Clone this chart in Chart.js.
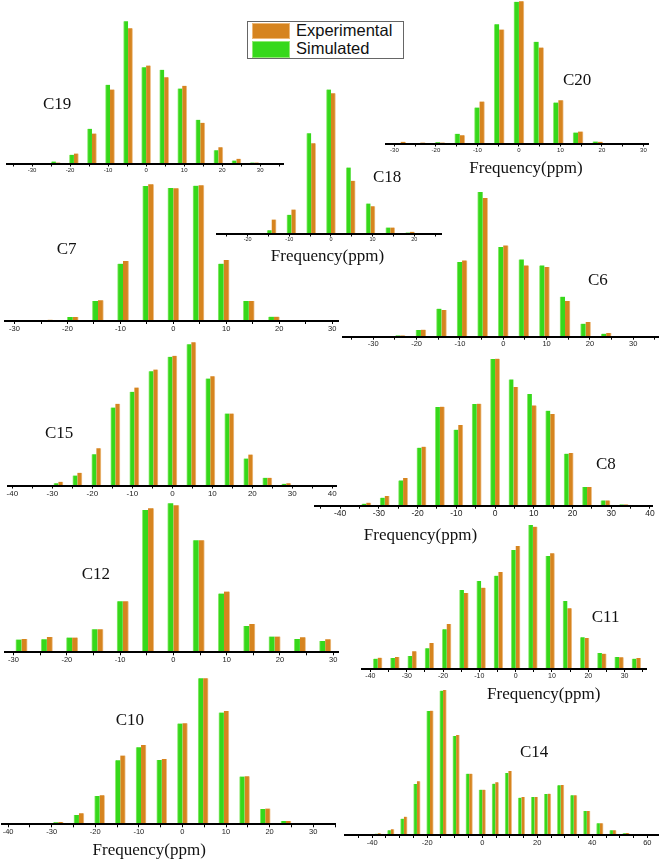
<!DOCTYPE html>
<html>
<head>
<meta charset="utf-8">
<script src="https://cdn.jsdelivr.net/npm/chart.js@4.4.1/dist/chart.umd.min.js"></script>
<style>
  html, body { margin: 0; padding: 0; background: #fff; }
  #fig { position: relative; width: 661px; height: 860px; overflow: hidden; }
  #fig canvas { position: absolute; }
  .lbl { position: absolute; font-family: "Liberation Serif", serif; font-size: 17px; line-height: 17px; color: #111; white-space: nowrap; }
  .freq { transform: translateX(-50%); }
  .sw { position: absolute; box-sizing: border-box; }
  .leg { position: absolute; font-family: "Liberation Sans", Arial, sans-serif; font-size: 16.5px; line-height: 17px; color: #111; white-space: nowrap; }
</style>
</head>
<body>
<div id="fig"></div>
<script>
// frequency offsets (ppm) of the bars, one list per panel
const c19Freq = [-23.75, -19, -14.25, -9.5, -4.75, 0, 4.75, 9.5, 14.25, 19, 23.75, 28.5];
const c19Sim  = [2, 8.7, 34.7, 78.7, 142.3, 96.3, 93.7, 75, 43.7, 13.3, 3, 1];
const c19Exp  = [1, 10, 30, 74, 135.3, 98, 86.3, 77.7, 40.7, 16.3, 4.7, 1];

const c20Freq = [-28.5, -23.75, -19, -14.25, -9.5, -4.75, 0, 4.75, 9.5, 14.25, 19];
const c20Sim  = [0, 0, 1.3, 9.7, 36, 119.3, 141.7, 101.7, 41, 11, 2];
const c20Exp  = [1.7, 1, 1, 8.3, 42, 114, 142.3, 96, 43.3, 12, 1.7];

const c18Freq = [-14.25, -9.5, -4.75, 0, 4.75, 9.5, 14.25, 19];
const c18Sim  = [3.3, 18.7, 100.3, 144, 66, 30, 6, 1];
const c18Exp  = [14, 24, 90.3, 140.3, 52.7, 27.3, 6, 1.7];

const c7Freq = [-23.75, -19, -14.25, -9.5, -4.75, 0, 4.75, 9.5, 14.25, 19, 23.75];
const c7Sim  = [0.5, 4, 20, 57.3, 135, 133, 135.3, 57.3, 20, 4.3, 0.7];
const c7Exp  = [1.3, 4, 20.7, 60, 136.7, 132.7, 135.7, 61, 20, 4.3, 0.7];

const c6Freq = [-23.75, -19, -14.25, -9.5, -4.75, 0, 4.75, 9.5, 14.25, 19, 23.75, 28.5];
const c6Sim  = [1.3, 6.7, 28, 74.7, 144.7, 89.7, 77.3, 71.3, 40, 13, 3, 0.7];
const c6Exp  = [1.3, 7, 26.7, 76.3, 138.7, 91.3, 71.3, 69.7, 35.7, 14.7, 3.7, 0.7];

const c15Freq = [-28.5, -23.75, -19, -14.25, -9.5, -4.75, 0, 4.75, 9.5, 14.25, 19, 23.75, 28.5];
const c15Sim  = [2.3, 10, 31.3, 78, 93.7, 114.3, 128.7, 141.3, 107, 72, 27, 7.7, 1.7];
const c15Exp  = [3.7, 12.7, 37.3, 81.7, 98, 116, 129.7, 143.3, 109.3, 72, 31, 7.7, 2.3];

const c8Freq = [-33.25, -28.5, -23.75, -19, -14.25, -9.5, -4.75, 0, 4.75, 9.5, 14.25, 19, 23.75, 28.5, 33.25];
const c8Sim  = [2, 8, 25.3, 58, 98.7, 76, 101.7, 146.7, 126.3, 111.7, 95, 52, 18.7, 5.3, 1.3];
const c8Exp  = [3, 9.7, 27.7, 59, 99, 80.7, 102, 147, 118.7, 100.3, 91.7, 52.7, 18.7, 5.3, 1.3];

const c12Freq = [-28.5, -23.75, -19, -14.25, -9.5, -4.75, 0, 4.75, 9.5, 14.25, 19, 23.75, 28.5];
const c12Sim  = [12.7, 13, 14.7, 23, 51, 142.3, 149, 112, 58.7, 26.3, 15.7, 13.3, 11.3];
const c12Exp  = [13.3, 15.3, 14.7, 23, 51, 144, 147, 112, 60.7, 28.3, 15.7, 15, 13];

const c11Freq = [-38, -33.25, -28.5, -23.75, -19, -14.25, -9.5, -4.75, 0, 4.75, 9.5, 14.25, 19, 23.75, 28.5, 33.25];
const c11Sim  = [10.3, 11, 13, 20.7, 39.7, 79, 88, 93.3, 119, 144, 113, 68, 31.7, 16, 12, 10.3];
const c11Exp  = [11.3, 12, 17.7, 26, 45, 76, 81.3, 97, 123, 142.3, 115.7, 60.7, 31, 15.3, 11.7, 11];

const c10Freq = [-33.25, -28.5, -23.75, -19, -14.25, -9.5, -4.75, 0, 4.75, 9.5, 14.25, 19, 23.75, 28.5];
const c10Sim  = [0.5, 2, 9.3, 28.3, 64, 77, 64.3, 100.7, 146, 111.7, 47.7, 15.3, 3.3, 0.5];
const c10Exp  = [1, 2.3, 11, 29, 68.7, 79.3, 65.3, 101, 146, 113.3, 48, 15.7, 3.3, 0.7];

const c14Freq = [-38, -33.25, -28.5, -23.75, -19, -14.25, -9.5, -4.75, 0, 4.75, 9.5, 14.25, 19, 23.75, 28.5, 33.25, 38, 42.75, 47.5, 52.25];
const c14Sim  = [1.3, 4.7, 16.3, 51, 124, 144.3, 99, 61.3, 45.3, 51.3, 62, 37.3, 38, 41, 49.7, 39.7, 24, 11.7, 4.7, 1.7];
const c14Exp  = [1.7, 5.7, 18.3, 53.7, 124.3, 145, 100, 61.3, 45.3, 52.7, 64, 38, 38, 41.3, 50, 39.7, 24, 11.7, 4.7, 2];

const GREEN = '#36D81B';
const ORANGE = '#D6841F';
const Y_TOP = 150;   // plot height in px, same as y max
const AXIS_H = 16;

// where each panel sits on the page (L/R = axis ends, B = baseline)
const panels = [
    { name: 'C19', freq: c19Freq, sim: c19Sim, exp: c19Exp, min: -36.6, max: 36.0, L: 7,     R: 283,   B: 163.5, bar: 4.5, font: 6,   step: 10, tx: 43,    ty: 109.5 },
    { name: 'C20', freq: c20Freq, sim: c20Sim, exp: c20Exp, min: -32.1, max: 31.1, L: 385.7, R: 648,   B: 143.5, bar: 5,   font: 6,   step: 10, tx: 563,   ty: 85, fx: 526, fy: 173.5 },
    { name: 'C18', freq: c18Freq, sim: c18Sim, exp: c18Exp, min: -27.3, max: 26.6, L: 217.3, R: 441.7, B: 233.5, bar: 4.5, font: 5.5, step: 10, tx: 373,   ty: 182.3, fx: 327.5, fy: 260.7 },
    { name: 'C7',  freq: c7Freq,  sim: c7Sim,  exp: c7Exp,  min: -31.8, max: 31.1, L: 5,     R: 338,   B: 321,   bar: 5.5, font: 7.5, step: 10, tx: 56.7,  ty: 254 },
    { name: 'C6',  freq: c6Freq,  sim: c6Sim,  exp: c6Exp,  min: -36.9, max: 35.7, L: 343.3, R: 658,   B: 336.7, bar: 5,   font: 7.5, step: 10, tx: 588,   ty: 285 },
    { name: 'C15', freq: c15Freq, sim: c15Sim, exp: c15Exp, min: -41.1, max: 41.1, L: 8,     R: 336.7, B: 485.5, bar: 4.6, font: 8,   step: 10, tx: 45,    ty: 438.3 },
    { name: 'C8',  freq: c8Freq,  sim: c8Sim,  exp: c8Exp,  min: -46.5, max: 40.7, L: 315,   R: 652.7, B: 505.7, bar: 4.6, font: 8.5, step: 10, tx: 596,   ty: 469, fx: 420.5, fy: 540.5 },
    { name: 'C12', freq: c12Freq, sim: c12Sim, exp: c12Exp, min: -31.6, max: 30.9, L: 5,     R: 338,   B: 652.3, bar: 5.7, font: 7.5, step: 10, tx: 81.7,  ty: 579.3 },
    { name: 'C11', freq: c11Freq, sim: c11Sim, exp: c11Exp, min: -42.4, max: 35.9, L: 361.7, R: 646,   B: 669,   bar: 4.4, font: 7,   step: 10, tx: 591.7, ty: 622.3, fx: 543.7, fy: 699.3 },
    { name: 'C10', freq: c10Freq, sim: c10Sim, exp: c10Exp, min: -41.4, max: 35,   L: 2,     R: 335,   B: 824.3, bar: 5,   font: 7.5, step: 10, tx: 115.7, ty: 725, fx: 149.2, fy: 855 },
    { name: 'C14', freq: c14Freq, sim: c14Sim, exp: c14Exp, min: -49.9, max: 64,   L: 345,   R: 658.3, B: 835,   bar: 3.3, font: 7.5, step: 20, tx: 520,   ty: 757.3 }
];

const fig = document.getElementById('fig');

function addText(cls, text, x, baseline) {
    const d = document.createElement('div');
    d.className = cls;
    d.textContent = text;
    d.style.left = x + 'px';
    d.style.top = (baseline - 14.2) + 'px';
    fig.appendChild(d);
}

function drawPanel(p) {
    const canvas = document.createElement('canvas');
    const left = Math.floor(p.L) - 14;
    const top = Math.floor(p.B - Y_TOP - 2);
    const width = Math.ceil(p.R) + 14 - left;
    const height = Math.ceil(p.B + AXIS_H + 1) - top;
    canvas.width = width;
    canvas.height = height;
    canvas.style.left = left + 'px';
    canvas.style.top = top + 'px';
    fig.appendChild(canvas);

    new Chart(canvas, {
        type: 'bar',
        data: {
            datasets: [{
                label: 'Simulated',
                data: p.freq.map((f, i) => ({ x: f, y: p.sim[i] })),
                backgroundColor: GREEN,
                borderColor: '#8FEA72',
                borderWidth: { left: 1, right: 0, top: 0, bottom: 0 },
                barThickness: p.bar
            }, {
                label: 'Experimental',
                data: p.freq.map((f, i) => ({ x: f, y: p.exp[i] })),
                backgroundColor: ORANGE,
                borderColor: '#EDC08A',
                borderWidth: { left: 0, right: 1, top: 0, bottom: 0 },
                barThickness: p.bar
            }]
        },
        options: {
            responsive: false,
            animation: false,
            events: [],
            layout: {
                padding: {
                    left: p.L - left,
                    right: left + width - p.R,
                    top: p.B - Y_TOP - top,
                    bottom: top + height - p.B - AXIS_H
                }
            },
            scales: {
                x: {
                    type: 'linear',
                    min: p.min,
                    max: p.max,
                    offset: false,
                    grid: { display: true, offset: false, drawOnChartArea: false, drawTicks: true, tickLength: 3, color: '#000', lineWidth: 1 },
                    border: { display: true, color: '#000', width: 2, z: 1 },
                    ticks: {
                        stepSize: 5,
                        includeBounds: false,
                        autoSkip: false,
                        maxRotation: 0,
                        minRotation: 0,
                        padding: 0,
                        color: '#222',
                        font: { family: 'Liberation Sans', size: p.font },
                        callback: v => (v % p.step === 0 ? String(v) : '')
                    },
                    afterFit: s => { s.height = AXIS_H; }
                },
                y: { display: false, min: 0, max: Y_TOP }
            },
            plugins: {
                legend: { display: false },
                tooltip: { enabled: false }
            }
        }
    });

    addText('lbl', p.name, p.tx, p.ty);
    if (p.fx !== undefined) {
        addText('lbl freq', 'Frequency(ppm)', p.fx, p.fy);
    }
}

panels.forEach(drawPanel);

// LEGEND
const box = document.createElement('div');
box.style.cssText = 'position:absolute;left:247px;top:21px;width:157px;height:38px;border:1.5px solid #666;box-sizing:border-box;background:#fff;';
fig.appendChild(box);
const swO = document.createElement('div');
swO.className = 'sw';
swO.style.cssText += 'left:252px;top:23px;width:38px;height:16px;background:' + ORANGE + ';border:1px solid #EDB877;';
fig.appendChild(swO);
const swG = document.createElement('div');
swG.className = 'sw';
swG.style.cssText += 'left:252px;top:41px;width:38px;height:16.5px;background:' + GREEN + ';border:1px solid #8FEA72;';
fig.appendChild(swG);
addText('leg', 'Experimental', 296, 36);
addText('leg', 'Simulated', 296, 54);
</script>
</body>
</html>
